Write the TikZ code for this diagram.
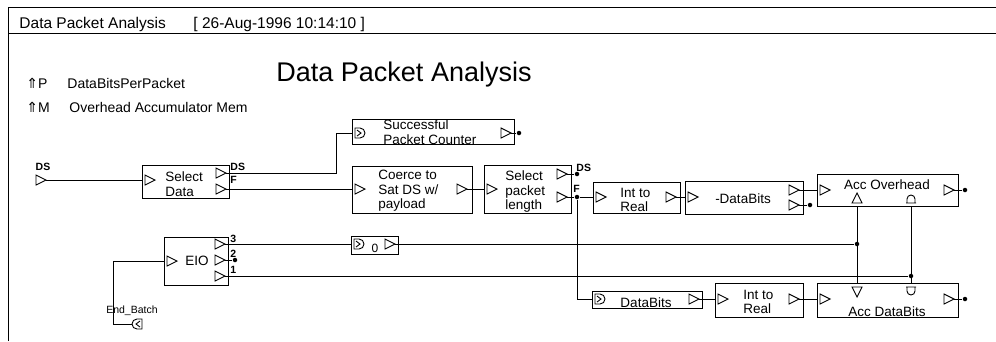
\documentclass[tikz,border=0pt]{standalone}
\usepackage{fontspec}
\setmainfont{Liberation Sans}
\newfontfamily\symfont{DejaVu Sans}
% port symbols, (x,y) in pixels of the sheet
\newcommand{\rtri}[2]{\draw (#1,#2) ++(0,-5) -- ++(10,5) -- ++(-10,5) -- cycle;}
\newcommand{\utri}[2]{\draw (#1,#2) ++(-5,5) -- ++(10,0) -- ++(-5,-10) -- cycle;}
\newcommand{\dtri}[2]{\draw (#1,#2) ++(-5,-5) -- ++(10,0) -- ++(-5,10) -- cycle;}
\newcommand{\ctr}[2]{\draw (#1,#2) ++(0,-5) -- ++(5,0) arc[start angle=-90,end angle=90,radius=5] -- ++(-5,0) -- cycle;
  \draw (#1+2,#2-3) -- (#1+6,#2) -- (#1+2,#2+3);}
\newcommand{\osym}[2]{\draw (#1,#2) ++(0,-5) -- ++(-5,0) arc[start angle=270,end angle=90,radius=5] -- ++(5,0) -- cycle;
  \draw (#1-2,#2-3) -- (#1-6,#2) -- (#1-2,#2+3);}
\newcommand{\bellu}[2]{\draw (#1,#2) ++(-5,5) -- ++(10,0) ++(-1,0) -- ++(0,-4) arc[start angle=0,end angle=-180,radius=4] -- ++(0,4);}
\newcommand{\belld}[2]{\draw (#1,#2) ++(-5,-5) -- ++(10,0) ++(-1,0) -- ++(0,4) arc[start angle=0,end angle=180,radius=4] -- ++(0,-4);}
\begin{document}
\begin{tikzpicture}[x=1pt,y=-1pt,line width=0.9pt,
  blk/.style={draw,anchor=north west,inner sep=0pt,outer sep=0pt},
  btxt/.style={font=\fontsize{13.5}{14.5}\selectfont,align=left,inner sep=0pt},
  htxt/.style={font=\fontsize{15.5}{17}\selectfont,inner sep=0pt},
  ptxt/.style={font=\fontsize{14}{16}\selectfont,inner sep=0pt},
  plbl/.style={font=\fontsize{10.5}{11}\selectfont\bfseries,inner sep=0pt},
  jdot/.style={circle,fill,inner sep=0pt,minimum size=4.5pt}]
\useasboundingbox (0,0) rectangle (996,341);
% sheet frame and header
\draw (8,341) -- (8,7) -- (996,7);
\draw (8,33) -- (996,33);
\node[htxt,anchor=base west] (hdr) at (19,28) {Data Packet Analysis};
\node[htxt,anchor=base west] (hdate) at (193,28) {[ 26-Aug-1996 10:14:10 ]};
\node[font=\fontsize{27}{30}\selectfont,anchor=base west,inner sep=0pt] (title) at (276,81) {Data Packet Analysis};
\node[ptxt,anchor=base west] (pp) at (26,88) {{\symfont ⇑}P};
\node[ptxt,anchor=base west] (ppn) at (67,88) {DataBitsPerPacket};
\node[ptxt,anchor=base west] (pm) at (26,112) {{\symfont ⇑}M};
\node[ptxt,anchor=base west] (pmn) at (69,112) {Overhead Accumulator Mem};

% blocks
\node[blk,minimum width=87,minimum height=33] (seld) at (142,165) {};
\node[blk,minimum width=162,minimum height=25] (spc) at (352,119) {};
\node[blk,minimum width=120,minimum height=47] (coer) at (352,166) {};
\node[blk,minimum width=87,minimum height=48] (spl) at (484,165) {};
\node[blk,minimum width=87,minimum height=31] (itr1) at (593,182) {};
\node[blk,minimum width=118,minimum height=33] (ndb) at (685,181) {};
\node[blk,minimum width=141,minimum height=32] (acco) at (817,174) {};
\node[blk,minimum width=64,minimum height=48] (eio) at (164,237) {};
\node[blk,minimum width=47,minimum height=18] (zero) at (351,236) {};
\node[blk,minimum width=110,minimum height=17] (dbits) at (592,291) {};
\node[blk,minimum width=88,minimum height=34] (itr2) at (715,283) {};
\node[blk,minimum width=141,minimum height=34] (accd) at (817,283) {};

% block texts
\node[btxt,anchor=west] (seld-t) at (165,184) {Select\\Data};
\node[btxt,anchor=west] (spc-t) at (383,132) {Successful\\Packet Counter};
\node[btxt,anchor=west] (coer-t) at (378,191) {Coerce to\\Sat DS w/\\payload};
\node[btxt,anchor=west] (spl-t) at (505,192) {Select\\packet\\length};
\node[btxt,anchor=west] (itr1-t) at (620,200) {Int to\\Real};
\node[btxt] (ndb-t) at (743,199) {-DataBits};
\node[btxt] (acco-t) at (887,185) {Acc Overhead};
\node[btxt] (eio-t) at (197,261) {EIO};
\node[btxt,font=\fontsize{12}{13}\selectfont] (zero-t) at (375,248) {0};
\node[btxt,anchor=base] (dbits-t) at (646,307) {DataBits};
\node[btxt,anchor=west] (itr2-t) at (743,302) {Int to\\Real};
\node[btxt,anchor=base] (accd-t) at (887,316) {Acc DataBits};

% port labels
\node[plbl] (ds-l) at (43,167) {DS};
\node[plbl,anchor=west] (seld-dsl) at (230,167) {DS};
\node[plbl,anchor=west] (seld-fl) at (230,180) {F};
\node[plbl,anchor=west] (spl-dsl) at (576,168) {DS};
\node[plbl,anchor=west] (spl-fl) at (573,189) {F};
\node[plbl,anchor=west] (eio-3l) at (230,239) {3};
\node[plbl,anchor=west] (eio-2l) at (230,254) {2};
\node[plbl,anchor=west] (eio-1l) at (230,270) {1};
\node[plbl,font=\fontsize{10.5}{11}\selectfont] (eb-l) at (132,311) {End\_Batch};

% port symbols
\rtri{36}{180}
\rtri{145}{180} \rtri{216}{173} \rtri{216}{189}
\ctr{355}{133} \rtri{501}{133}
\rtri{355}{189} \rtri{457}{189}
\rtri{487}{189} \rtri{557}{174} \rtri{557}{197}
\rtri{596}{197} \rtri{666}{197}
\rtri{688}{197} \rtri{789}{190} \rtri{789}{205}
\rtri{820}{190} \rtri{944}{190} \utri{857}{198} \bellu{911}{198}
\rtri{167}{261} \rtri{215}{244} \rtri{215}{260} \rtri{215}{276}
\ctr{354}{244} \rtri{385}{244}
\ctr{595}{299} \rtri{689}{299}
\rtri{718}{299} \rtri{789}{299}
\rtri{820}{299} \rtri{944}{299} \dtri{857}{292} \belld{911}{292}
\osym{142}{324}

% port coordinates
\coordinate (ds-o) at (46,180);
\coordinate (seld-i) at (142,180);
\coordinate (seld-ds) at (226,173);
\coordinate (seld-f) at (226,189);
\coordinate (spc-i) at (352,133);
\coordinate (spc-o) at (511,133);
\coordinate (coer-i) at (352,189);
\coordinate (coer-o) at (467,189);
\coordinate (spl-i) at (484,189);
\coordinate (spl-ds) at (567,174);
\coordinate (spl-f) at (567,197);
\coordinate (itr1-i) at (593,197);
\coordinate (itr1-o) at (676,197);
\coordinate (ndb-i) at (685,197);
\coordinate (ndb-o1) at (799,190);
\coordinate (ndb-o2) at (799,205);
\coordinate (acco-i) at (817,190);
\coordinate (acco-o) at (954,190);
\coordinate (acco-a) at (857,206);
\coordinate (acco-b) at (911,206);
\coordinate (eio-i) at (164,261);
\coordinate (eio-3) at (225,244);
\coordinate (eio-2) at (225,260);
\coordinate (eio-1) at (225,276);
\coordinate (zero-i) at (351,244);
\coordinate (zero-o) at (395,244);
\coordinate (dbits-i) at (592,299);
\coordinate (dbits-o) at (699,299);
\coordinate (itr2-i) at (715,299);
\coordinate (itr2-o) at (799,299);
\coordinate (accd-i) at (817,299);
\coordinate (accd-o) at (954,299);
\coordinate (accd-a) at (857,283);
\coordinate (accd-b) at (911,283);
\coordinate (eb) at (132,324);

% junctions and open ends
\node[jdot] (spc-d) at (519,133) {};
\node[jdot] (spl-d) at (577,174) {};
\node[jdot] (fj) at (577,197) {};
\node[jdot] (ndb-d) at (810,205) {};
\node[jdot] (acco-d) at (965,190) {};
\node[jdot] (eio-d) at (235,260) {};
\node[jdot] (j3) at (857,244) {};
\node[jdot] (j1) at (911,276) {};
\node[jdot] (accd-d) at (965,299) {};

% wires
\draw (ds-o) -- (seld-i);
\draw (seld-ds) -- ++(110,0) |- (spc-i);
\draw (seld-f) -- (coer-i);
\draw (spc-o) -- (spc-d);
\draw (coer-o) -- (spl-i);
\draw (spl-ds) -- (spl-d);
\draw (spl-f) -- (fj) -- (itr1-i);
\draw (fj) |- (dbits-i);
\draw (itr1-o) -- (ndb-i);
\draw (ndb-o1) -- (acco-i);
\draw (ndb-o2) -- (ndb-d);
\draw (acco-o) -- (acco-d);
\draw (acco-a) -- (accd-a);
\draw (acco-b) -- (accd-b);
\draw (eio-3) -- (zero-i);
\draw (zero-o) -- (j3);
\draw (eio-2) -- (eio-d);
\draw (eio-1) -- (j1);
\draw (eio-i) -- ++(-51,0) |- (eb);
\draw (dbits-o) -- (itr2-i);
\draw (itr2-o) -- (accd-i);
\draw (accd-o) -- (accd-d);
\end{tikzpicture}
\end{document}
